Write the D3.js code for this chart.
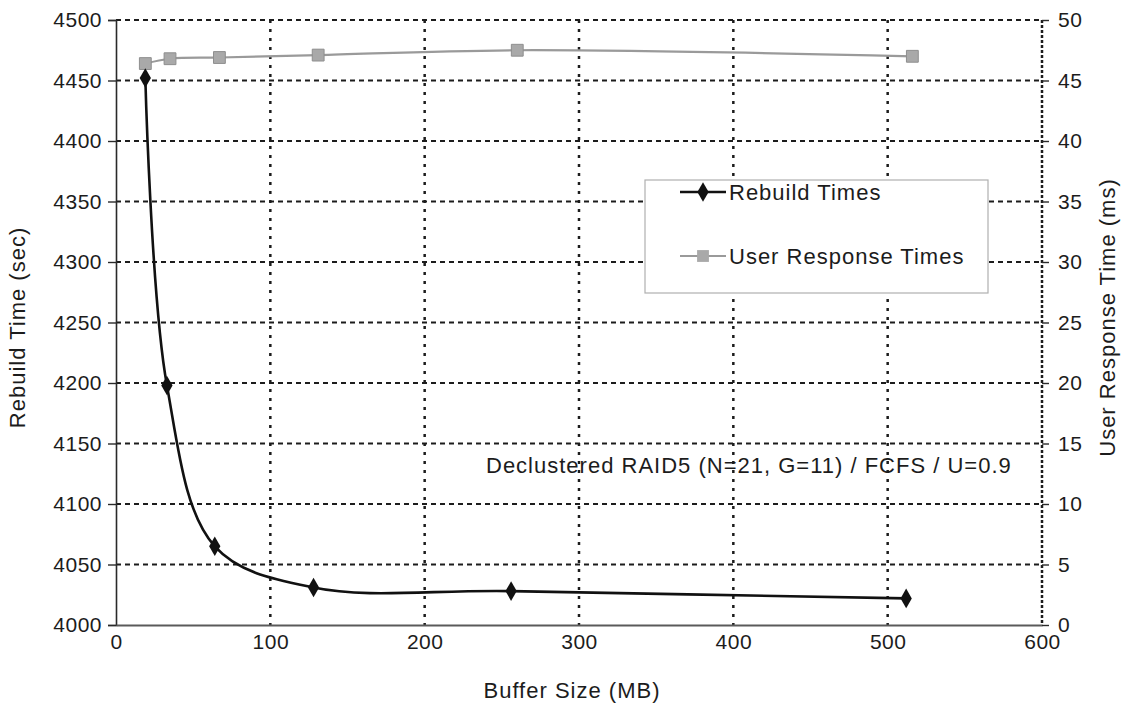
<!DOCTYPE html>
<html>
<head>
<meta charset="utf-8">
<script src="https://cdn.jsdelivr.net/npm/d3@7"></script>
<style>
  body { margin: 0; background: #fff; }
  text { font-family: "Liberation Sans", Arial, Helvetica, sans-serif; fill: #1c1c1c; }
</style>
</head>
<body>
<svg id="chart" width="1130" height="714"></svg>
<script>
// Rebuild time vs. buffer size
const rebuildBuffer = [19, 33, 64, 128, 256, 512];
const rebuildTimes = [4452, 4198, 4065, 4031, 4028, 4022];

// User response time vs. buffer size
const responseBuffer = [19, 35, 67, 131, 260, 516];
const responseTimes = [46.4, 46.8, 46.9, 47.1, 47.5, 47.0];

// Axis ticks
const xTicks = [0, 100, 200, 300, 400, 500, 600];
const leftTicks = [4000, 4050, 4100, 4150, 4200, 4250, 4300, 4350, 4400, 4450, 4500];
const rightTicks = [0, 5, 10, 15, 20, 25, 30, 35, 40, 45, 50];

const seriesNames = ["Rebuild Times", "User Response Times"];
const xTitle = "Buffer Size (MB)";
const leftTitle = "Rebuild Time (sec)";
const rightTitle = "User Response Time (ms)";
const noteText = "Declustered RAID5 (N=21, G=11) / FCFS / U=0.9";

const svg = d3.select("#chart");
const plot = { left: 116, right: 1042, top: 20, bottom: 625 };

const x = d3.scaleLinear().domain([0, 600]).range([plot.left, plot.right]);
const yL = d3.scaleLinear().domain([4000, 4500]).range([plot.bottom, plot.top]);
const yR = d3.scaleLinear().domain([0, 50]).range([plot.bottom, plot.top]);

const ink = "#1c1c1c";
const labelStyle = sel => sel.style("font-size", "21px").style("letter-spacing", "0.5px").attr("fill", ink);
const bigText = sel => sel.style("font-size", "22px").style("letter-spacing", "1px");

// Horizontal dashed gridlines (including the top frame)
svg.append("g").selectAll("line")
  .data(leftTicks.filter(d => d > 4000))
  .join("line")
  .attr("x1", plot.left).attr("x2", plot.right)
  .attr("y1", d => yL(d)).attr("y2", d => yL(d))
  .attr("stroke", ink).attr("stroke-width", 2)
  .attr("stroke-dasharray", "5,4");

// Vertical dotted gridlines
svg.append("g").selectAll("line")
  .data(xTicks.filter(d => d > 0 && d < 600))
  .join("line")
  .attr("x1", d => x(d)).attr("x2", d => x(d))
  .attr("y1", plot.top).attr("y2", plot.bottom)
  .attr("stroke", ink).attr("stroke-width", 2.5)
  .attr("stroke-dasharray", "3,6");

// Right frame: dense dotted line
svg.append("line")
  .attr("x1", x(600)).attr("x2", x(600))
  .attr("y1", plot.top).attr("y2", plot.bottom)
  .attr("stroke", ink).attr("stroke-width", 2.5)
  .attr("stroke-dasharray", "3,2");

// Left and bottom axes
const axisLeft = d3.axisLeft(yL).tickValues(leftTicks).tickSize(8).tickPadding(6).tickFormat(d3.format("d"));
const gL = svg.append("g").attr("transform", `translate(${plot.left},0)`).call(axisLeft);
gL.select(".domain").attr("stroke", "#2a2a2a").attr("stroke-width", 1.6);
gL.selectAll(".tick line").attr("stroke", "#2a2a2a").attr("stroke-width", 1.4);
gL.selectAll(".tick text").call(labelStyle);

const axisBottom = d3.axisBottom(x).tickValues(xTicks).tickSize(0).tickPadding(9).tickFormat(d3.format("d"));
const gB = svg.append("g").attr("transform", `translate(0,${plot.bottom})`).call(axisBottom);
gB.select(".domain").attr("stroke", "#5a5a5a").attr("stroke-width", 1.8);
gB.selectAll(".tick text").call(labelStyle);

const axisRight = d3.axisRight(yR).tickValues(rightTicks).tickSize(7).tickPadding(9).tickFormat(d3.format("d"));
const gR = svg.append("g").attr("transform", `translate(${plot.right},0)`).call(axisRight);
gR.select(".domain").remove();
gR.selectAll(".tick line").attr("stroke", "#2a2a2a").attr("stroke-width", 1.4);
gR.selectAll(".tick text").call(labelStyle);

// Axis titles
svg.append("text")
  .attr("x", 572).attr("y", 698)
  .attr("text-anchor", "middle")
  .call(bigText)
  .text(xTitle);

svg.append("text")
  .attr("transform", `translate(25,${(plot.top + plot.bottom) / 2 + 5}) rotate(-90)`)
  .attr("text-anchor", "middle")
  .call(bigText)
  .text(leftTitle);

svg.append("text")
  .attr("transform", `translate(1115,${(plot.top + plot.bottom) / 2 - 5}) rotate(-90)`)
  .attr("text-anchor", "middle")
  .call(bigText)
  .text(rightTitle);

// Series lines
const curve = d3.curveCatmullRom.alpha(0.5);

const rebuildData = rebuildBuffer.map((b, i) => ({ b, v: rebuildTimes[i] }));
const responseData = responseBuffer.map((b, i) => ({ b, v: responseTimes[i] }));

const grey = "#9a9a9a";

svg.append("path")
  .datum(responseData)
  .attr("fill", "none").attr("stroke", grey).attr("stroke-width", 2.2)
  .attr("d", d3.line().x(d => x(d.b)).y(d => yR(d.v)).curve(curve));

svg.append("g").selectAll("path")
  .data(responseData)
  .join("path")
  .attr("transform", d => `translate(${x(d.b)},${yR(d.v)})`)
  .attr("d", d3.symbol(d3.symbolSquare, 140)())
  .attr("fill", "#a9a9a9").attr("stroke", "#8e8e8e").attr("stroke-width", 1);

svg.append("path")
  .datum(rebuildData)
  .attr("fill", "none").attr("stroke", "#111").attr("stroke-width", 2.6)
  .attr("d", d3.line().x(d => x(d.b)).y(d => yL(d.v)).curve(curve));

svg.append("g").selectAll("path")
  .data(rebuildData)
  .join("path")
  .attr("transform", d => `translate(${x(d.b)},${yL(d.v)})`)
  .attr("d", d3.symbol(d3.symbolDiamond, 110)())
  .attr("fill", "#111");

// Annotation
svg.append("text")
  .attr("x", 486).attr("y", 473)
  .call(bigText)
  .text(noteText);

// Legend
const legend = svg.append("g");
legend.append("rect")
  .attr("x", 645).attr("y", 180).attr("width", 343).attr("height", 113)
  .attr("fill", "#fff").attr("stroke", "#b0b0b0").attr("stroke-width", 1.2);

const legendRows = [
  { name: seriesNames[0], y: 192, stroke: "#111", sym: d3.symbolDiamond, size: 110, fill: "#111", sw: 2.6 },
  { name: seriesNames[1], y: 256, stroke: grey, sym: d3.symbolSquare, size: 140, fill: "#a9a9a9", sw: 2.2 }
];
const row = legend.selectAll("g.row").data(legendRows).join("g").attr("class", "row");
row.append("line")
  .attr("x1", 680).attr("x2", 726)
  .attr("y1", d => d.y).attr("y2", d => d.y)
  .attr("stroke", d => d.stroke).attr("stroke-width", d => d.sw);
row.append("path")
  .attr("transform", d => `translate(703,${d.y})`)
  .attr("d", d => d3.symbol(d.sym, d.size)())
  .attr("fill", d => d.fill);
row.append("text")
  .attr("x", 729).attr("y", d => d.y + 8)
  .call(bigText)
  .text(d => d.name);
</script>
</body>
</html>
